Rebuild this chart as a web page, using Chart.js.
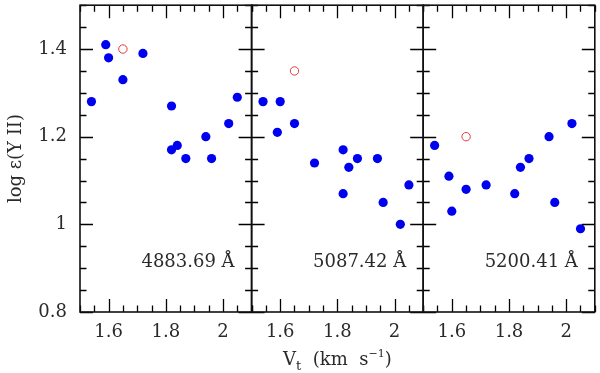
<!DOCTYPE html>
<html><head><meta charset="utf-8">
<script src="https://cdn.jsdelivr.net/npm/chart.js@4/dist/chart.umd.min.js"></script>
<style>html,body{margin:0;padding:0;background:#fff}#wrap{width:600px;height:373px;position:relative}</style>
</head><body><div id="wrap"><canvas id="c"></canvas></div>
<script>
// ---- data ----
const panelLabels = ["4883.69 Å", "5087.42 Å", "5200.41 Å"];
const xTickValues = [1.6, 1.8, 2];
const yTickValues = [0.8, 1, 1.2, 1.4];

const p1Vt   = [1.54, 1.59, 1.60, 1.65, 1.72, 1.82, 1.82, 1.84, 1.87, 1.94, 1.96, 2.02, 2.05];
const p1Logy = [1.28, 1.41, 1.38, 1.33, 1.39, 1.27, 1.17, 1.18, 1.15, 1.20, 1.15, 1.23, 1.29];
const p1OpenVt = [1.65], p1OpenLogy = [1.40];

const p2Vt   = [1.54, 1.59, 1.60, 1.65, 1.72, 1.82, 1.82, 1.84, 1.87, 1.94, 1.96, 2.02, 2.05];
const p2Logy = [1.28, 1.21, 1.28, 1.23, 1.14, 1.17, 1.07, 1.13, 1.15, 1.15, 1.05, 1.00, 1.09];
const p2OpenVt = [1.65], p2OpenLogy = [1.35];

const p3Vt   = [1.54, 1.59, 1.60, 1.65, 1.72, 1.82, 1.84, 1.87, 1.94, 1.96, 2.02, 2.05];
const p3Logy = [1.18, 1.11, 1.03, 1.08, 1.09, 1.07, 1.13, 1.15, 1.20, 1.05, 1.23, 0.99];
const p3OpenVt = [1.65], p3OpenLogy = [1.20];

const panels = [
  {vt: p1Vt, logy: p1Logy, ovt: p1OpenVt, ology: p1OpenLogy},
  {vt: p2Vt, logy: p2Logy, ovt: p2OpenVt, ology: p2OpenLogy},
  {vt: p3Vt, logy: p3Logy, ovt: p3OpenVt, ology: p3OpenLogy}
];

// ---- styles ----
const FONT = '"DejaVu Serif", "Liberation Serif", serif';
const TXT = '#2a2a2a';
const pts = (xs, ys) => xs.map((x, i) => ({x: x, y: ys[i]}));

const datasets = [];
panels.forEach((p, i) => {
  datasets.push({label: 'filled' + i, xAxisID: 'x' + i, yAxisID: 'y', data: pts(p.vt, p.logy),
    pointRadius: 4.6, pointBackgroundColor: '#0000f0', pointBorderWidth: 0, pointBorderColor: '#0000f0', showLine: false});
  datasets.push({label: 'open' + i, xAxisID: 'x' + i, yAxisID: 'y', data: pts(p.ovt, p.ology),
    pointRadius: 4.2, pointBackgroundColor: 'rgba(0,0,0,0)', pointBorderWidth: 1, pointBorderColor: '#e23a3a', showLine: false});
});

const scales = {
  y: {
    type: 'linear', position: 'left', min: 0.8, max: 1.5,
    afterBuildTicks: s => { s.ticks = yTickValues.map(v => ({value: v})); },
    afterFit: s => { s.width = 80; s.paddingTop = 0; s.paddingBottom = 0; },
    grid: {display: false, drawTicks: false, tickLength: 0},
    border: {display: false},
    ticks: {font: {family: FONT, size: 18}, color: TXT, padding: 13, callback: v => String(v)},
    title: {display: true, text: 'log ε(Y II)', font: {family: FONT, size: 18}, color: TXT, padding: {top: 6, bottom: 0}}
  }
};
for (let i = 0; i < 3; i++) {
  scales['x' + i] = {
    type: 'linear', position: 'bottom', stack: 'panels', stackWeight: 1, min: 1.5, max: 2.1,
    afterBuildTicks: s => { s.ticks = xTickValues.map(v => ({value: v})); },
    afterFit: s => { s.height = 61; s.paddingLeft = 0; s.paddingRight = 0; },
    grid: {display: false, drawTicks: false, tickLength: 0},
    border: {display: false},
    ticks: {font: {family: FONT, size: 18}, color: TXT, padding: 10, maxRotation: 0, autoSkip: false, callback: v => String(v)}
  };
}

const framePlugin = {
  id: 'frame',
  afterDraw(chart) {
    const ctx = chart.ctx, a = chart.chartArea, ys = chart.scales.y;
    ctx.save();
    for (let i = 0; i < 3; i++) {
      const xs = chart.scales['x' + i];
      const L = xs.left, R = xs.right;
      ctx.strokeStyle = '#000';
      ctx.lineWidth = 1.3;
      ctx.beginPath();
      for (let k = 0; k <= 12; k++) {
        const v = 1.5 + k * 0.05;
        const px = Math.round(xs.getPixelForValue(v)) + 0.5;
        const len = (k % 2 === 0) ? 13 : 6.5;   // k even -> 1.5,1.6,... multiples of 0.1? handled below
        const major = Math.abs(v / 0.2 - Math.round(v / 0.2)) < 1e-6;
        const L2 = major ? 13 : 6.5;
        ctx.moveTo(px, a.bottom); ctx.lineTo(px, a.bottom - L2);
        ctx.moveTo(px, a.top); ctx.lineTo(px, a.top + L2);
      }
      for (let k = 0; k <= 14; k++) {
        const v = 0.8 + k * 0.05;
        const py = Math.round(ys.getPixelForValue(v)) + 0.5;
        const major = Math.abs(v / 0.2 - Math.round(v / 0.2)) < 1e-6;
        const len = major ? 13 : 6.5;
        ctx.moveTo(L, py); ctx.lineTo(L + len, py);
        ctx.moveTo(R, py); ctx.lineTo(R - len, py);
      }
      ctx.stroke();
      ctx.strokeStyle = '#111'; ctx.lineWidth = 1.6;
      ctx.strokeRect(L, a.top, R - L, a.bottom - a.top);
      ctx.fillStyle = TXT;
      ctx.font = '18px ' + FONT;
      ctx.textAlign = 'right'; ctx.textBaseline = 'middle';
      ctx.fillText(panelLabels[i], R - 17, a.bottom - 50);
    }
    // x axis title with sub/superscripts
    const cx = (a.left + a.right) / 2, base = 365;
    const parts = [
      {t: 'V', size: 18, dy: 0},
      {t: 't', size: 13, dy: 5},
      {t: '  (km  s', size: 18, dy: 0},
      {t: '−1', size: 11, dy: -8},
      {t: ')', size: 18, dy: 0}
    ];
    let total = 0;
    parts.forEach(p => { ctx.font = p.size + 'px ' + FONT; p.w = ctx.measureText(p.t).width; total += p.w; });
    let x = cx - total / 2;
    ctx.textAlign = 'left'; ctx.textBaseline = 'alphabetic'; ctx.fillStyle = TXT;
    parts.forEach(p => { ctx.font = p.size + 'px ' + FONT; ctx.fillText(p.t, x, base + p.dy); x += p.w; });
    ctx.restore();
  }
};

new Chart(document.getElementById('c'), {
  type: 'scatter',
  data: {datasets: datasets},
  options: {
    responsive: true, maintainAspectRatio: false, animation: false,
    layout: {padding: {top: 5, right: 4, left: 0, bottom: 0}},
    plugins: {legend: {display: false}, tooltip: {enabled: false}},
    scales: scales
  },
  plugins: [framePlugin]
});
</script></body></html>
